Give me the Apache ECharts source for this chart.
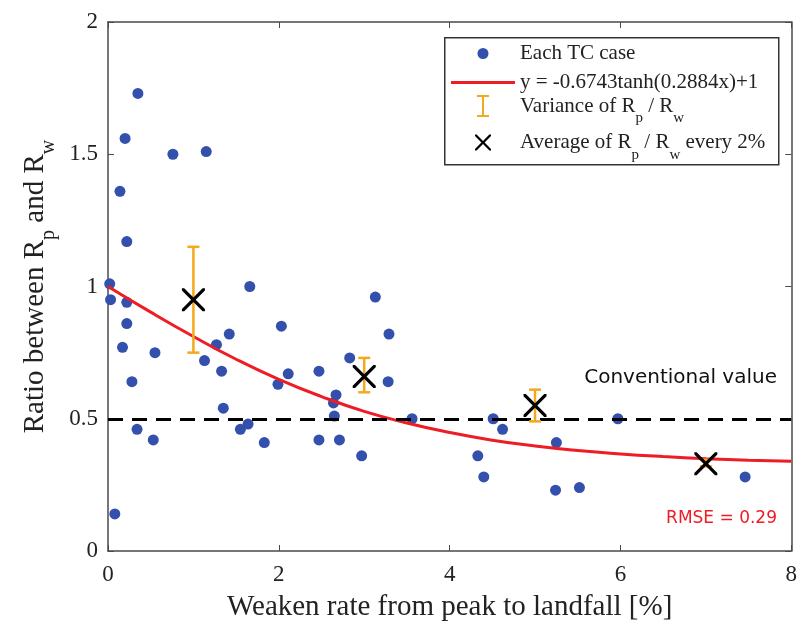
<!DOCTYPE html>
<html>
<head>
<meta charset="utf-8">
<script src="https://cdn.jsdelivr.net/npm/echarts@6/dist/echarts.min.js"></script>
<style>
html, body { margin: 0; padding: 0; background: #fff; }
#chart { width: 800px; height: 632px; }
</style>
</head>
<body>
<div id="chart"></div>
<script>
// each TC case: weaken rate [%] and Rp/Rw ratio
const caseX = [0.02, 0.03, 0.08, 0.14, 0.17, 0.2, 0.22, 0.22, 0.22, 0.28, 0.34, 0.35, 0.53, 0.55,
  0.76, 1.15, 1.13, 1.27, 1.33, 1.35, 1.42, 1.55, 1.64, 1.66, 1.83, 1.99, 2.03, 2.11, 2.47, 2.47,
  2.64, 2.67, 2.65, 2.71, 2.83, 2.97, 3.13, 3.29, 3.28, 3.56, 4.33, 4.4, 4.51, 4.62, 5.25, 5.24,
  5.52, 5.97, 7.46];
const caseY = [1.01, 0.95, 0.14, 1.36, 0.77, 1.56, 1.17, 0.94, 0.86, 0.64, 0.46, 1.73, 0.42, 0.75,
  1.5, 1.51, 0.72, 0.78, 0.68, 0.54, 0.82, 0.46, 0.48, 1.0, 0.41, 0.63, 0.85, 0.67, 0.68, 0.42,
  0.56, 0.59, 0.51, 0.42, 0.73, 0.36, 0.96, 0.82, 0.64, 0.5, 0.36, 0.28, 0.5, 0.46, 0.41, 0.23,
  0.24, 0.5, 0.28];

// fitted curve
const fitX = [0, 0.5, 1, 1.5, 2, 2.5, 3, 3.5, 4, 4.5, 5, 5.5, 6, 6.5, 7, 7.5, 8];
const fitY = [1.0, 0.903, 0.811, 0.725, 0.649, 0.584, 0.528, 0.484, 0.448, 0.419, 0.397, 0.38,
  0.367, 0.357, 0.349, 0.343, 0.339];

// averages every 2% with variance bars
const binX = [1, 3, 5, 7];
const binMean = [0.95, 0.66, 0.55, 0.33];
const binLow = [0.75, 0.6, 0.49, 0.32];
const binHigh = [1.15, 0.73, 0.61, 0.345];

const conventional = 0.5;

const serif = 'Liberation Serif';
const sans = 'DejaVu Sans';
const blue = '#3350ad';
const red = '#ee1c25';
const orange = '#f2a91c';
const axisColor = '#4a4a4a';

const chart = echarts.init(document.getElementById('chart'));

const subRich = {
  n: { fontFamily: serif, fontSize: 21, color: '#222', verticalAlign: 'middle', lineHeight: 40 },
  s: { fontFamily: serif, fontSize: 15, color: '#222', verticalAlign: 'bottom', lineHeight: 16 },
};

// one legend per row so each icon can have its own size; icons centred on x=483, text at x=520
function legendRow(name, textMid, icon, w, h, label, itemStyle) {
  return {
    data: [{ name, icon, itemStyle }],
    left: 483 - w / 2, top: textMid - 10, orient: 'vertical',
    itemWidth: w, itemHeight: h, itemGap: 0, padding: 0,
    selectedMode: false,
    formatter: () => label,
    textStyle: { rich: subRich, padding: [0, 0, 0, 32 - w / 2] },
  };
}

const xIcon = 'path://M0,0L2,0L10,8L18,0L20,0L20,2L12,10L20,18L20,20L18,20L10,12L2,20L0,20L0,18L8,10L0,2Z';
const barIcon = 'path://M0,0L12,0L12,2L7,2L7,20L12,20L12,22L0,22L0,20L5,20L5,2L0,2Z';

const axisCommon = {
  min: 0,
  axisLine: { show: true, onZero: false, lineStyle: { color: axisColor, width: 1.5 } },
  axisTick: { show: true, inside: true, length: 6, lineStyle: { color: axisColor } },
  splitLine: { show: false },
};

chart.setOption({
  animation: false,
  backgroundColor: '#fff',
  grid: { left: 108, right: 5, top: 22, bottom: 81 },
  xAxis: [
    {
      ...axisCommon, type: 'value', max: 8, interval: 2, position: 'bottom',
      axisLabel: { fontFamily: serif, fontSize: 23, color: '#222', margin: 12 },
      name: 'Weaken rate from peak to landfall [%]',
      nameLocation: 'middle', nameGap: 42,
      nameTextStyle: { fontFamily: serif, fontSize: 29, color: '#222' },
    },
    {
      ...axisCommon, type: 'value', max: 8, interval: 2, position: 'top',
      axisLabel: { show: false },
    },
  ],
  yAxis: [
    {
      ...axisCommon, type: 'value', max: 2, interval: 0.5, position: 'left',
      axisLabel: { fontFamily: serif, fontSize: 23, color: '#222', margin: 10 },
      name: '{n|Ratio between R}{s|p}{n| and R}{s|w}',
      nameLocation: 'middle', nameGap: 45,
      nameTextStyle: {
        rich: {
          n: { fontFamily: serif, fontSize: 29, color: '#222', verticalAlign: 'middle', lineHeight: 46 },
          s: { fontFamily: serif, fontSize: 20, color: '#222', verticalAlign: 'bottom', lineHeight: 20 },
        },
      },
    },
    {
      ...axisCommon, type: 'value', max: 2, interval: 0.5, position: 'right',
      axisLabel: { show: false },
    },
  ],
  legend: [
    legendRow('Each TC case', 53, 'circle', 11, 11, '{n|Each TC case}'),
    legendRow('fit', 82, 'rect', 64, 3, '{n|y = -0.6743tanh(0.2884x)+1}', { color: red }),
    legendRow('Variance', 105, barIcon, 12, 22, '{n|Variance of R}{s|p}{n| / R}{s|w}', { color: orange }),
    legendRow('Average', 142, xIcon, 16, 16, '{n|Average of R}{s|p}{n| / R}{s|w}{n| every 2%}', { color: '#000' }),
  ],
  graphic: [
    {
      type: 'rect', left: 444, top: 37, z: 5, silent: true,
      shape: { width: 334, height: 127 },
      style: { fill: 'rgba(255,255,255,0)', stroke: '#333', lineWidth: 1.5 },
    },
    {
      type: 'text', right: 23, top: 368, z: 5,
      style: { text: 'Conventional value', font: '20px "' + sans + '"', fill: '#111' },
    },
    {
      type: 'text', right: 23, top: 510, z: 5,
      style: { text: 'RMSE = 0.29', font: '17px "' + sans + '"', fill: red },
    },
  ],
  series: [
    {
      name: 'Each TC case',
      type: 'scatter',
      symbolSize: 11,
      itemStyle: { color: blue, opacity: 1 },
      data: caseX.map((x, i) => [x, caseY[i]]),
      z: 3,
    },
    {
      name: 'fit',
      type: 'line',
      smooth: true,
      symbol: 'none',
      lineStyle: { color: red, width: 3 },
      itemStyle: { color: red },
      data: fitX.map((x, i) => [x, fitY[i]]),
      z: 4,
      markLine: {
        silent: true,
        symbol: 'none',
        label: { show: false },
        lineStyle: { color: '#000', type: [15, 9], width: 3 },
        data: [{ yAxis: conventional }],
      },
    },
    {
      name: 'Variance',
      type: 'custom',
      itemStyle: { color: orange },
      data: binX.map((x, i) => [x, binLow[i], binHigh[i]]),
      renderItem(params, api) {
        const lo = api.coord([api.value(0), api.value(1)]);
        const hi = api.coord([api.value(0), api.value(2)]);
        const cap = 6;
        const style = { stroke: orange, lineWidth: 2.5 };
        return {
          type: 'group',
          children: [
            { type: 'line', shape: { x1: lo[0], y1: lo[1], x2: hi[0], y2: hi[1] }, style },
            { type: 'line', shape: { x1: lo[0] - cap, y1: lo[1], x2: lo[0] + cap, y2: lo[1] }, style },
            { type: 'line', shape: { x1: hi[0] - cap, y1: hi[1], x2: hi[0] + cap, y2: hi[1] }, style },
          ],
        };
      },
      z: 5,
    },
    {
      name: 'Average',
      type: 'scatter',
      symbol: xIcon,
      symbolSize: 23,
      itemStyle: { color: '#000', opacity: 1 },
      data: binX.map((x, i) => [x, binMean[i]]),
      z: 6,
    },
  ],
});
</script>
</body>
</html>
